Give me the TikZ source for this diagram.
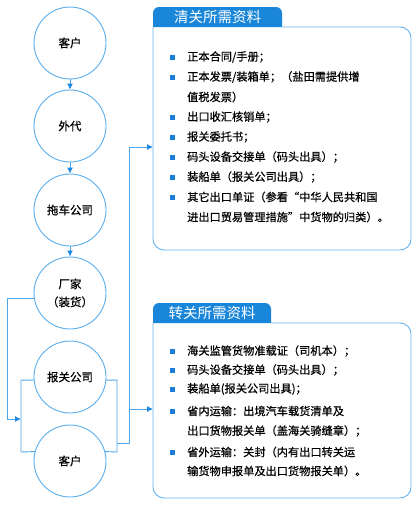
\documentclass[tikz,border=0pt]{standalone}
\usepackage{fontspec}
\newfontfamily\cjk[FakeBold=0.6]{Noto Sans CJK SC}
\newfontfamily\cjktitle{Noto Sans CJK SC}
\usetikzlibrary{arrows.meta}
\definecolor{circblue}{HTML}{5AAFEF}
\definecolor{lineblue}{HTML}{4BA6EC}
\definecolor{headblue}{HTML}{1E88E5}
\definecolor{boxblue}{HTML}{66B5F0}
\definecolor{tabblue}{HTML}{1A86DA}
\definecolor{dotblue}{HTML}{1A7ED6}
\tikzset{
  stage/.style={circle, draw=circblue, line width=0.9pt, minimum size=72pt, inner sep=0pt,
    font=\cjk\fontsize{11.5}{18}\selectfont, align=center},
  link/.style={draw=lineblue, line width=0.9pt},
  flow/.style={link, -{Latex[length=6pt,width=6pt,color=headblue]}},
  panel/.style={rectangle, inner sep=0pt, outer sep=0pt},
  boxline/.style={draw=boxblue, line width=0.9pt},
  tabtext/.style={text=white, font=\cjktitle\fontsize{14.5}{14.5}\selectfont, inner sep=0pt},
  bulletsq/.style={rectangle, fill=dotblue, minimum size=5pt, inner sep=0pt},
  itemtext/.style={anchor=west, inner sep=0pt, font=\cjk\fontsize{11.2}{14}\selectfont},
}
\begin{document}
\begin{tikzpicture}[x=1pt,y=-1pt]
\fill[white] (0,0) rectangle (420,514);
\useasboundingbox (0,0) rectangle (420,514);

% process circles
\node[stage] (c1) at (70,43) {客户};
\node[stage] (c2) at (70,126) {外代};
\node[stage] (c3) at (70,210) {拖车公司};
\node[stage] (c4) at (70,293) {厂家\\（装货）};
\node[stage] (c5) at (70,377) {报关公司};
\node[stage] (c6) at (70,461) {客户};

\draw[flow] (c1) -- (c2);
\draw[flow] (c2) -- (c3);
\draw[flow] (c3) -- (c4);

% left loop from factory
\coordinate (p2) at (7,419);
\coordinate (q1) at (21,419);
\draw[link] (c4.188) -| (p2);
\draw[flow] (p2) -- (q1);

% brackets between customs broker and customer
\coordinate (lb) at (21,452);
\coordinate (rb) at (117,452);
\draw[link] (c5.185) -| (lb) -- (c6.165);
\draw[link] (c5.355) -| (rb) -- (c6.15);

% panels
\node[panel, minimum width=258pt, minimum height=223pt] (b1) at (282,138.5) {};
\node[panel, minimum width=129pt, minimum height=20pt] (t1) at (217.5,17) {};
\node[panel, minimum width=258pt, minimum height=175pt] (b2) at (282,410.5) {};
\node[panel, minimum width=118pt, minimum height=20pt] (t2) at (212,313) {};

\draw[boxline] (t1.south east) [rounded corners=11] -- (b1.north east) -- (b1.south east) -- (b1.south west) -- (b1.north west);
\fill[tabblue] (t1.south west) [rounded corners=6] -- (t1.north west) -- (t1.north east) -- (t1.south east);
\node[tabtext] (t1text) at (t1) {清关所需资料};

\draw[boxline] (t2.south east) [rounded corners=11] -- (b2.north east) -- (b2.south east) -- (b2.south west) -- (b2.north west);
\fill[tabblue] (t2.south west) [rounded corners=6] -- (t2.north west) -- (t2.north east) -- (t2.south east);
\node[tabtext] (t2text) at (t2) {转关所需资料};

% connectors to panels
\coordinate (rj) at (117,443);
\coordinate (vj) at (129,443);
\coordinate (vt) at (129,147);
\coordinate (vm) at (129,409);
\draw[link] (rj) -- (vj) -- (vt);
\draw[flow] (vt) -- (vt -| b1.west);
\draw[flow] (vm) -- (vm -| b2.west);

% panel 1 items
\node[bulletsq] (ba1) at (172,57) {};
\node[itemtext] (a1) at (187,57) {正本合同/手册；};
\node[bulletsq] (ba2) at (172,77) {};
\node[itemtext] (a2) at (187,77) {正本发票/装箱单；（盐田需提供增};
\node[itemtext] (a2b) at (187,97) {值税发票）};
\node[bulletsq] (ba3) at (172,117) {};
\node[itemtext] (a3) at (187,117) {出口收汇核销单；};
\node[bulletsq] (ba4) at (172,137) {};
\node[itemtext] (a4) at (187,137) {报关委托书；};
\node[bulletsq] (ba5) at (172,157) {};
\node[itemtext] (a5) at (187,157) {码头设备交接单（码头出具）；};
\node[bulletsq] (ba6) at (172,177) {};
\node[itemtext] (a6) at (187,177) {装船单（报关公司出具）；};
\node[bulletsq] (ba7) at (172,197) {};
\node[itemtext] (a7) at (187,197) {其它出口单证（参看“中华人民共和国};
\node[itemtext] (a7b) at (187,217) {进出口贸易管理措施”中货物的归类）。};

% panel 2 items
\node[bulletsq] (bb1) at (172,351) {};
\node[itemtext] (d1) at (187,351) {海关监管货物准载证（司机本）；};
\node[bulletsq] (bb2) at (172,370) {};
\node[itemtext] (d2) at (187,370) {码头设备交接单（码头出具）；};
\node[bulletsq] (bb3) at (172,389) {};
\node[itemtext] (d3) at (187,389) {装船单(报关公司出具)；};
\node[bulletsq] (bb4) at (172,411) {};
\node[itemtext] (d4) at (187,411) {省内运输：出境汽车载货清单及};
\node[itemtext] (d4b) at (187,431) {出口货物报关单（盖海关骑缝章）；};
\node[bulletsq] (bb5) at (172,452) {};
\node[itemtext] (d5) at (187,452) {省外运输：关封（内有出口转关运};
\node[itemtext] (d5b) at (187,471) {输货物申报单及出口货物报关单）。};
\end{tikzpicture}
\end{document}
